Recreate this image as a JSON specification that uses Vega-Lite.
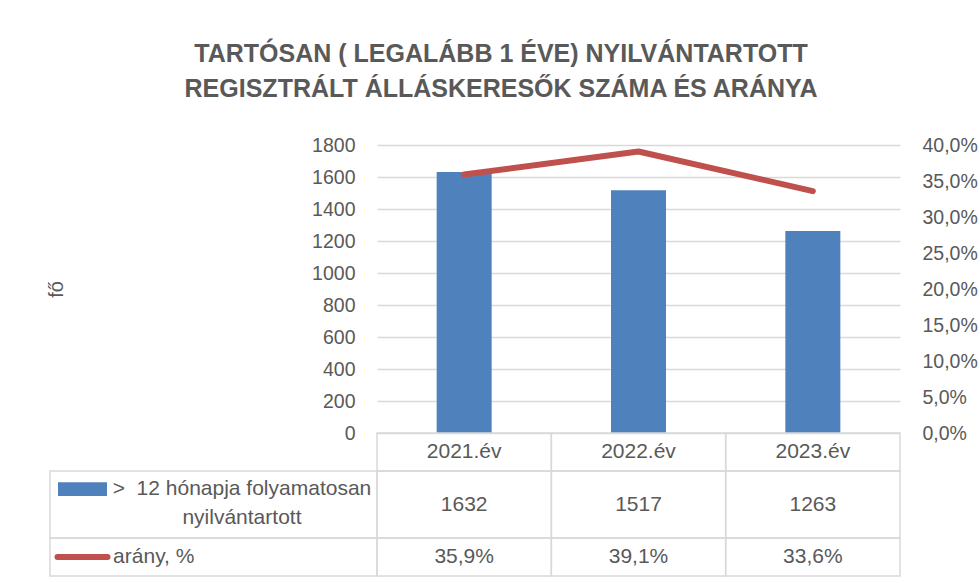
{
  "$schema": "https://vega.github.io/schema/vega-lite/v6.json",
  "background": "white",
  "padding": {"left": 44, "top": 42, "right": 3, "bottom": 3},
  "title": {
    "text": ["TARTÓSAN ( LEGALÁBB 1 ÉVE) NYILVÁNTARTOTT", "REGISZTRÁLT ÁLLÁSKERESŐK SZÁMA ÉS ARÁNYA"],
    "font": "Liberation Sans",
    "fontSize": 25,
    "fontWeight": "bold",
    "color": "#595959",
    "lineHeight": 35,
    "anchor": "middle",
    "dx": -10,
    "offset": 33
  },
  "datasets": {
    "main": [
      {"year": "2021.év", "count": 1632, "rate": 0.359},
      {"year": "2022.év", "count": 1517, "rate": 0.391},
      {"year": "2023.év", "count": 1263, "rate": 0.336}
    ]
  },
  "columns": 2,
  "spacing": 0,
  "bounds": "flush",
  "concat": [
    {
      "width": 327, "height": 288,
      "data": {"values": []},
      "mark": "rect",
      "encoding": {}
    },
    {
      "width": 523, "height": 288,
      "data": {"name": "main"},
      "layer": [
        {
          "mark": {"type": "bar", "size": 55, "color": "#4F81BD"},
          "encoding": {
            "x": {"field": "year", "type": "nominal", "sort": null, "axis": null, "scale": {"type": "band", "paddingInner": 0, "paddingOuter": 0}},
            "y": {
              "field": "count", "type": "quantitative",
              "scale": {"domain": [0, 1800]},
              "axis": {
                "values": [0, 200, 400, 600, 800, 1000, 1200, 1400, 1600, 1800],
                "format": "d",
                "title": "fő",
                "titleFontSize": 20,
                "titleFontWeight": "normal",
                "titleColor": "#595959",
                "titleX": -321,
                "titleY": 144,
                "titleBaseline": "middle",
                "titleAlign": "center",
                "labelFontSize": 19.5,
                "labelColor": "#595959",
                "labelPadding": 22,
                "ticks": false,
                "domain": false,
                "grid": true,
                "gridColor": "#D9D9D9",
                "gridWidth": 1.5
              }
            }
          }
        },
        {
          "mark": {"type": "line", "color": "#C0504D", "strokeWidth": 6, "strokeCap": "round", "strokeJoin": "round"},
          "encoding": {
            "x": {"field": "year", "type": "nominal", "sort": null, "axis": null, "scale": {"type": "band", "paddingInner": 0, "paddingOuter": 0}},
            "y": {
              "field": "rate", "type": "quantitative",
              "scale": {"domain": [0, 0.4]},
              "axis": {
                "orient": "right",
                "values": [0, 0.05, 0.1, 0.15, 0.2, 0.25, 0.3, 0.35, 0.4],
                "format": ".1%",
                "title": null,
                "labelFontSize": 19.5,
                "labelColor": "#595959",
                "labelPadding": 22,
                "ticks": false,
                "domain": false,
                "grid": false
              }
            }
          }
        }
      ],
      "resolve": {"scale": {"y": "independent"}}
    },
    {
      "width": 327, "height": 38,
      "data": {"values": []},
      "mark": "rect",
      "encoding": {}
    },
    {
      "width": 523, "height": 38,
      "data": {"name": "main"},
      "layer": [
        {
          "mark": {"type": "rect", "fill": "transparent", "stroke": "#D9D9D9", "strokeWidth": 1.5},
          "encoding": {"x": {"field": "year", "type": "nominal", "sort": null, "axis": null, "scale": {"type": "band", "paddingInner": 0, "paddingOuter": 0}}}
        },
        {
          "mark": {"type": "text", "fontSize": 21, "color": "#595959", "baseline": "middle"},
          "encoding": {
            "x": {"field": "year", "type": "nominal", "sort": null, "axis": null, "scale": {"type": "band", "paddingInner": 0, "paddingOuter": 0}},
            "text": {"field": "year", "type": "nominal"}
          }
        }
      ]
    },
    {
      "width": 327, "height": 67,
      "view": {"stroke": "#D9D9D9", "strokeWidth": 1.5},
      "data": {"values": [{"series": ">\u00a0 12 hónapja folyamatosan\nnyilvántartott"}]},
      "layer": [
        {
          "mark": {"type": "point", "shape": "M-1,-0.28H1V0.28H-1Z", "size": 2401, "filled": true, "color": "#4F81BD", "opacity": 1, "strokeWidth": 0},
          "encoding": {
            "x": {"field": "series", "type": "nominal", "bandPosition": 0.0994, "axis": null, "scale": {"type": "band", "paddingInner": 0, "paddingOuter": 0}},
            "y": {"field": "series", "type": "nominal", "bandPosition": 0.27, "axis": null, "scale": {"type": "band", "paddingInner": 0, "paddingOuter": 0}}
          }
        },
        {
          "mark": {"type": "text", "fontSize": 21, "color": "#595959", "align": "center", "baseline": "middle", "lineBreak": "\n", "lineHeight": 29},
          "encoding": {
            "x": {"field": "series", "type": "nominal", "bandPosition": 0.587, "axis": null, "scale": {"type": "band", "paddingInner": 0, "paddingOuter": 0}},
            "y": {"field": "series", "type": "nominal", "bandPosition": 0.27, "axis": null, "scale": {"type": "band", "paddingInner": 0, "paddingOuter": 0}},
            "text": {"field": "series", "type": "nominal"}
          }
        }
      ]
    },
    {
      "width": 523, "height": 67,
      "data": {"name": "main"},
      "layer": [
        {
          "mark": {"type": "rect", "fill": "transparent", "stroke": "#D9D9D9", "strokeWidth": 1.5},
          "encoding": {"x": {"field": "year", "type": "nominal", "sort": null, "axis": null, "scale": {"type": "band", "paddingInner": 0, "paddingOuter": 0}}}
        },
        {
          "mark": {"type": "text", "fontSize": 21, "color": "#595959", "baseline": "middle"},
          "encoding": {
            "x": {"field": "year", "type": "nominal", "sort": null, "axis": null, "scale": {"type": "band", "paddingInner": 0, "paddingOuter": 0}},
            "text": {"field": "count", "type": "quantitative", "format": "d"}
          }
        }
      ]
    },
    {
      "width": 327, "height": 38,
      "view": {"stroke": "#D9D9D9", "strokeWidth": 1.5},
      "data": {"values": [{"series": "arány, %"}]},
      "layer": [
        {
          "mark": {"type": "point", "shape": "stroke", "size": 2500, "filled": false, "color": "#C0504D", "opacity": 1, "strokeWidth": 6, "strokeCap": "round"},
          "encoding": {
            "x": {"field": "series", "type": "nominal", "bandPosition": 0.0994, "axis": null, "scale": {"type": "band", "paddingInner": 0, "paddingOuter": 0}}
          }
        },
        {
          "mark": {"type": "text", "fontSize": 21, "color": "#595959", "align": "left", "baseline": "middle"},
          "encoding": {
            "x": {"field": "series", "type": "nominal", "bandPosition": 0.193, "axis": null, "scale": {"type": "band", "paddingInner": 0, "paddingOuter": 0}},
            "text": {"field": "series", "type": "nominal"}
          }
        }
      ]
    },
    {
      "width": 523, "height": 38,
      "data": {"name": "main"},
      "layer": [
        {
          "mark": {"type": "rect", "fill": "transparent", "stroke": "#D9D9D9", "strokeWidth": 1.5},
          "encoding": {"x": {"field": "year", "type": "nominal", "sort": null, "axis": null, "scale": {"type": "band", "paddingInner": 0, "paddingOuter": 0}}}
        },
        {
          "mark": {"type": "text", "fontSize": 21, "color": "#595959", "baseline": "middle"},
          "encoding": {
            "x": {"field": "year", "type": "nominal", "sort": null, "axis": null, "scale": {"type": "band", "paddingInner": 0, "paddingOuter": 0}},
            "text": {"field": "rate", "type": "quantitative", "format": ".1%"}
          }
        }
      ]
    }
  ],
  "config": {
    "font": "Liberation Sans",
    "view": {"stroke": null},
    "axis": {"labelFont": "Liberation Sans", "titleFont": "Liberation Sans"},
    "locale": {
      "number": {"decimal": ",", "thousands": "\u00a0", "grouping": [3], "currency": ["", "\u00a0Ft"]}
    }
  }
}
